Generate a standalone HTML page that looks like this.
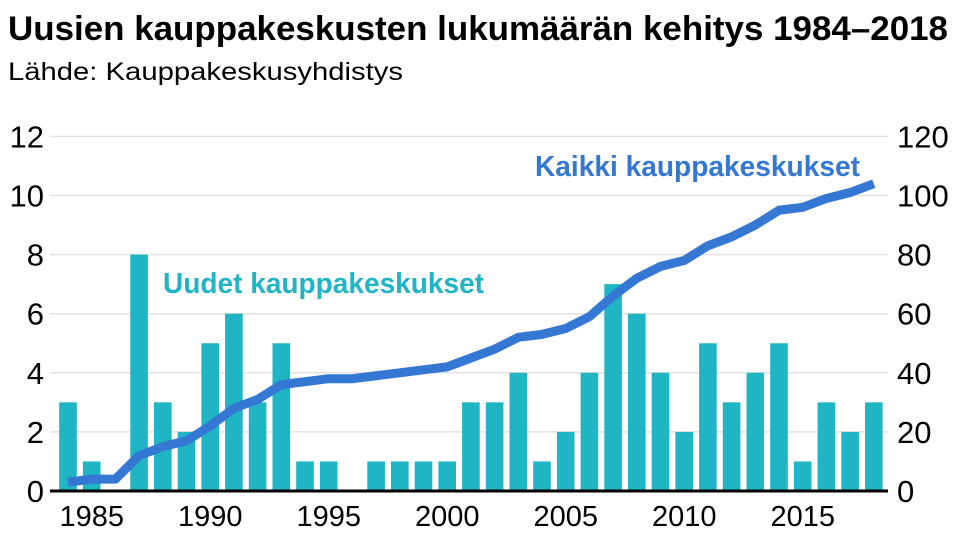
<!DOCTYPE html>
<html><head><meta charset="utf-8"><style>
body{margin:0;background:#fff;}
svg{display:block;font-family:"Liberation Sans Narrow","Liberation Sans",sans-serif;}
</style></head><body>
<svg id="chart" width="959" height="540" viewBox="0 0 959 540" xmlns="http://www.w3.org/2000/svg">
<text x="8" y="40" font-size="34" font-weight="bold" textLength="940" lengthAdjust="spacingAndGlyphs" fill="#000">Uusien kauppakeskusten lukumäärän kehitys 1984–2018</text>
<text x="8" y="80" font-size="25" textLength="395" lengthAdjust="spacingAndGlyphs" fill="#000">Lähde: Kauppakeskusyhdistys</text>
<g id="grid"></g>
<g id="bars"></g>
<line x1="50" x2="888" y1="491" y2="491" stroke="#000" stroke-width="3"/>
<g id="ticks"></g>
<path id="line" fill="none" stroke="#3478d4" stroke-width="9" stroke-linejoin="round"/>
<text x="535" y="176" font-size="29" font-weight="bold" fill="#3478d4" textLength="325" lengthAdjust="spacingAndGlyphs">Kaikki kauppakeskukset</text>
<text x="163" y="293" font-size="29" font-weight="bold" fill="#1fb5c5" textLength="321" lengthAdjust="spacingAndGlyphs">Uudet kauppakeskukset</text>
</svg>
<script>
const years=[1984,1985,1986,1987,1988,1989,1990,1991,1992,1993,1994,1995,1996,1997,1998,1999,2000,2001,2002,2003,2004,2005,2006,2007,2008,2009,2010,2011,2012,2013,2014,2015,2016,2017,2018];
const newCenters=[3,1,0,8,3,2,5,6,3,5,1,1,0,1,1,1,1,3,3,4,1,2,4,7,6,4,2,5,3,4,5,1,3,2,3];
const allCenters=[3,4,4,12,15,17,22,28,31,36,37,38,38,39,40,41,42,45,48,52,53,55,59,66,72,76,78,83,86,90,95,96,99,101,104];
const leftTicks=[0,2,4,6,8,10,12];
const rightTicks=[0,20,40,60,80,100,120];
const xTicks=[1985,1990,1995,2000,2005,2010,2015];
const NS="http://www.w3.org/2000/svg";
const x=y=>68+(y-1984)*23.7;
const yL=v=>491-v*29.55;
const yR=v=>491-v*2.955;
function mk(t,a,p){const e=document.createElementNS(NS,t);for(const k in a)e.setAttribute(k,a[k]);p.appendChild(e);return e;}
const grid=document.getElementById('grid'),ticks=document.getElementById('ticks'),bars=document.getElementById('bars');
leftTicks.forEach((v,i)=>{
 if(v>0){const g=mk('line',{x1:50,x2:888,y1:yL(v),y2:yL(v),stroke:'#e2e2e2','stroke-width':1.5},grid);
 
 }
 const t=mk('text',{x:44,y:yL(v)+11,'font-size':31,'text-anchor':'end',fill:'#000'},ticks);t.textContent=v;
 
 
 const r=mk('text',{x:897,y:yR(rightTicks[i])+11,'font-size':31,fill:'#000'},ticks);r.textContent=rightTicks[i];
 
 
});
xTicks.forEach(v=>{const t=mk('text',{x:x(v),y:526,'font-size':29,'text-anchor':'middle',fill:'#000'},ticks);t.textContent=v;
 
 });
years.forEach((yr,i)=>{const h=newCenters[i]*29.55;
 const b=mk('rect',{x:x(yr)-8.8,y:491-h,width:17.6,height:h,fill:'#1fb5c5'},bars);
 
 });
document.getElementById('line').setAttribute('d',years.map((yr,i)=>(i?'L':'M')+x(yr)+','+yR(allCenters[i])).join(' '));
</script>
</body></html>
